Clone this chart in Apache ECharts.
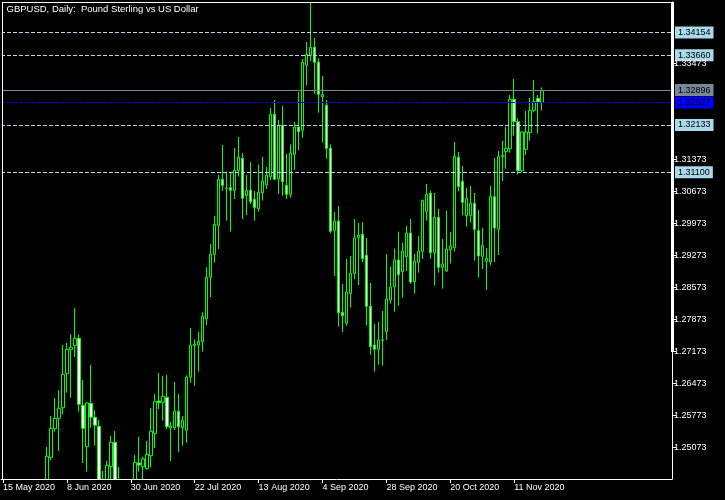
<!DOCTYPE html>
<html>
<head>
<meta charset="utf-8">
<style>
html,body{margin:0;padding:0;background:#000;}
#chart{width:725px;height:500px;}
</style>
<script src="https://cdn.jsdelivr.net/npm/echarts/dist/echarts.min.js"></script>
</head>
<body>
<div id="chart"></div>
<script>
// ---- data (daily bars from 15 May 2020; first 11 bars lie below the visible range) ----
const titleText = 'GBPUSD, Daily:  Pound Sterling vs US Dollar';
const firstDate = [2020, 4, 15];
const barCount = 136;
const totalSlots = 168;
const tickLabels = ['15 May 2020','8 Jun 2020','30 Jun 2020','22 Jul 2020','13 Aug 2020','4 Sep 2020','28 Sep 2020','20 Oct 2020','11 Nov 2020'];
const tickEvery = 16;

const openPrices = [null,null,null,null,null,null,null,null,null,null,null,
 1.2350,1.24855,1.25489,1.25715,1.25948,1.26692,1.27217,1.27305,1.27465,1.25999,
 1.25095,1.26043,1.25737,1.25540,1.2410,1.2350,1.24658,1.25190,1.2415,1.2420,
 1.2335,1.2310,1.2400,1.24738,1.24658,1.24614,1.24898,1.25387,1.26094,1.26065,
 1.26174,1.25503,1.25510,1.25869,1.25510,1.25453,1.26613,1.27305,1.27319,1.27392,
 1.27896,1.28800,1.29303,1.29930,1.30944,1.30750,1.30761,1.30703,1.31133,1.31403,
 1.30586,1.30703,1.30506,1.30302,1.30652,1.30820,1.31002,1.32366,1.30951,1.32125,
 1.30812,1.30615,1.31491,1.32088,1.32016,1.33438,1.33656,1.33831,1.33503,1.32752,
 1.32563,1.31622,1.29828,1.30032,1.28034,1.27801,1.28443,1.28880,1.29668,1.29741,
 1.29281,1.28165,1.27320,1.27225,1.27430,1.27611,1.28304,1.28596,1.29179,1.28924,
 1.29252,1.29770,1.28705,1.29128,1.29369,1.30244,1.30637,1.29339,1.30112,1.29019,
 1.28938,1.29405,1.29449,1.31425,1.30900,1.30149,1.30149,1.30419,1.29821,1.29259,
 1.29150,1.29135,1.30564,1.29850,1.31440,1.31549,1.31614,1.32694,1.32205,1.31133,
 1.31600,1.31965,1.32453,1.32716,1.32628];
const highPrices = [null,null,null,null,null,null,null,null,null,null,null,
 1.25088,1.25766,1.26160,1.26335,1.27319,1.27363,1.27553,1.28129,1.27553,1.26554,
 1.26072,1.26882,1.25897,1.25679,1.24563,1.24782,1.25329,1.25438,1.24651,1.2430,
 1.2400,1.2420,1.24913,1.25307,1.24876,1.25219,1.25941,1.26247,1.26707,1.26641,
 1.26663,1.25635,1.26510,1.26247,1.25766,1.26657,1.27691,1.27444,1.27604,1.28034,
 1.29019,1.29529,1.30141,1.31038,1.31695,1.31111,1.31089,1.31629,1.31870,1.31520,
 1.31038,1.31323,1.30688,1.31264,1.31432,1.31213,1.32504,1.32679,1.32242,1.32548,
 1.31498,1.31709,1.32198,1.32854,1.33576,1.33948,1.34820,1.34035,1.33591,1.33204,
 1.32679,1.31709,1.30229,1.30360,1.28654,1.29201,1.29267,1.30076,1.29989,1.30010,
 1.29660,1.28676,1.27779,1.27823,1.28063,1.29310,1.29033,1.29427,1.29799,1.29558,
 1.29923,1.30076,1.29310,1.29704,1.30499,1.30842,1.30696,1.30645,1.30295,1.29638,
 1.30258,1.29792,1.31760,1.31542,1.31235,1.30754,1.30798,1.30645,1.30273,1.29879,
 1.29442,1.30798,1.31410,1.31563,1.31782,1.32088,1.32789,1.33139,1.32278,1.31994,
 1.32438,1.32723,1.33117,1.32789,1.32956];
const lowPrices = [null,null,null,null,null,null,null,null,null,null,null,
 1.2340,1.24796,1.25423,1.25000,1.25803,1.26277,1.26167,1.27057,1.25861,1.24738,
 1.24548,1.25511,1.25117,1.2390,1.2335,1.2340,1.2435,1.2405,1.2355,1.2330,
 1.2250,1.2255,1.2390,1.24548,1.2430,1.24592,1.24643,1.25066,1.25919,1.25664,
 1.25482,1.24782,1.25460,1.24976,1.25116,1.25182,1.26494,1.26429,1.26735,1.27174,
 1.27757,1.28369,1.29121,1.29420,1.30688,1.30039,1.29799,1.30513,1.31002,1.30076,
 1.30163,1.30404,1.30039,1.30236,1.30477,1.30732,1.30929,1.30929,1.30623,1.30586,
 1.30513,1.30543,1.31148,1.31585,1.31855,1.32997,1.33532,1.32810,1.32402,1.31746,
 1.31396,1.29762,1.28829,1.27721,1.27604,1.27743,1.28136,1.28756,1.28632,1.29135,
 1.27743,1.27108,1.26736,1.26889,1.26867,1.27429,1.28224,1.28049,1.28180,1.28355,
 1.28938,1.28654,1.28443,1.28902,1.29201,1.30040,1.29208,1.28618,1.28902,1.28552,
 1.28917,1.29099,1.29361,1.30681,1.30156,1.29908,1.29996,1.29164,1.28793,1.28982,
 1.28523,1.29070,1.29135,1.29288,1.30907,1.31177,1.31527,1.31899,1.31046,1.31097,
 1.31476,1.31790,1.32409,1.31943,1.32446];
const closePrices = [null,null,null,null,null,null,null,null,null,null,null,
 1.24884,1.25496,1.25715,1.25934,1.26678,1.27224,1.27268,1.27465,1.26021,1.25496,
 1.26050,1.25737,1.25562,1.2410,1.2350,1.24687,1.25190,1.2415,1.2420,1.2335,
 1.2310,1.2400,1.24753,1.24694,1.24825,1.24928,1.25431,1.26087,1.26058,1.26196,
 1.25533,1.25547,1.25869,1.25532,1.25672,1.26613,1.27313,1.27340,1.27400,1.27946,
 1.28800,1.29303,1.29959,1.30944,1.30812,1.30745,1.30703,1.31141,1.31425,1.30528,
 1.30703,1.30455,1.30324,1.30659,1.30907,1.31031,1.32366,1.30944,1.32125,1.30893,
 1.30615,1.31520,1.32088,1.31986,1.33503,1.33678,1.33831,1.33503,1.32803,1.32803,
 1.31622,1.29806,1.30032,1.28027,1.27961,1.28479,1.28887,1.29660,1.29719,1.29208,
 1.28165,1.27283,1.27225,1.27429,1.27425,1.28326,1.28588,1.29179,1.28858,1.29376,
 1.29770,1.28698,1.29157,1.29376,1.30484,1.30615,1.29339,1.30112,1.29019,1.29091,
 1.29420,1.29485,1.31447,1.30783,1.30441,1.30528,1.30419,1.29850,1.29266,1.29493,
 1.29215,1.30572,1.29879,1.31440,1.31469,1.31622,1.32694,1.32205,1.31133,1.31979,
 1.31979,1.32453,1.32643,1.32635,1.32883];

const priceAxisTicks = [1.25073,1.25773,1.26473,1.27173,1.27873,1.28573,1.29273,1.29973,1.30673,1.31373,1.33473];
const priceAxisMin = 1.24388;
const priceAxisMax = 1.34823;

const levelValues = [1.34154, 1.33660, 1.32896, 1.32627, 1.32133, 1.31100];
const levelKinds  = ['level','level','bid','ask','level','level'];

// ---- build ----
const months = ['Jan','Feb','Mar','Apr','May','Jun','Jul','Aug','Sep','Oct','Nov','Dec'];
const categories = [];
{
  const d = new Date(Date.UTC(firstDate[0], firstDate[1], firstDate[2]));
  while (categories.length < totalSlots) {
    const wd = d.getUTCDay();
    if (wd !== 0 && wd !== 6) {
      categories.push(d.getUTCDate() + ' ' + months[d.getUTCMonth()] + ' ' + d.getUTCFullYear());
    }
    d.setUTCDate(d.getUTCDate() + 1);
  }
}
const candleData = [];
for (let i = 0; i < barCount; i++) {
  if (openPrices[i] == null) { candleData.push('-'); continue; }
  candleData.push([openPrices[i], closePrices[i], lowPrices[i], highPrices[i]]);
}

const kindStyle = {
  level: { color: '#a9d9ea', type: [4, 2], text: '#000' },
  bid:   { color: '#778899', type: 'solid', text: '#000' },
  ask:   { color: '#0000ff', type: [4, 2], text: '#000' }
};
const markData = levelValues.map((v, k) => {
  const s = kindStyle[levelKinds[k]];
  return {
    yAxis: v,
    lineStyle: { color: s.color, type: s.type, width: 1 },
    label: {
      show: true, position: 'end', distance: 3,
      formatter: () => v.toFixed(5),
      color: s.text, backgroundColor: s.color,
      padding: [2, 3, 1, 3], fontSize: 9, fontFamily: 'Liberation Sans', lineHeight: 9
    }
  };
});

const showTick = (idx) => idx % tickEvery === 0 && idx < barCount;

const chart = echarts.init(document.getElementById('chart'), null, { renderer: 'canvas' });
chart.setOption({
  backgroundColor: '#000',
  animation: false,
  grid: { left: 0.3, top: 2, width: 671.7, bottom: 21, containLabel: false },
  xAxis: {
    type: 'category',
    z: 20,
    data: categories,
    boundaryGap: true,
    axisLine: { show: true, lineStyle: { color: '#fff', width: 1 } },
    axisTick: { show: true, interval: showTick, alignWithLabel: true, length: 4, lineStyle: { color: '#fff' } },
    axisLabel: {
      show: true, interval: showTick, align: 'left', margin: 4,
      color: '#fff', fontSize: 9, fontFamily: 'Liberation Sans',
      formatter: (val, idx) => tickLabels[Math.round(idx / tickEvery)] || ''
    },
    splitLine: { show: false }
  },
  yAxis: {
    type: 'value',
    z: 20,
    position: 'right',
    min: priceAxisMin,
    max: priceAxisMax,
    axisLine: { show: true, lineStyle: { color: '#fff', width: 1 } },
    axisTick: { show: true, customValues: priceAxisTicks, length: 4, lineStyle: { color: '#fff' } },
    axisLabel: {
      show: true, customValues: priceAxisTicks, margin: 2,
      color: '#fff', fontSize: 9, fontFamily: 'Liberation Sans',
      formatter: (v) => Number(v).toFixed(5)
    },
    splitLine: { show: false }
  },
  series: [{
    type: 'candlestick',
    data: candleData,
    barWidth: 3,
    clip: true,
    z: 2,
    itemStyle: {
      color: '#000000', color0: '#ffffff',
      borderColor: '#00ff00', borderColor0: '#00ff00', borderWidth: 1
    },
    emphasis: { disabled: true },
    markLine: {
      silent: true, symbol: ['none', 'none'], animation: false,
      precision: 5,
      data: markData
    }
  }],
  graphic: [
    { type: 'rect', shape: { x: 0, y: 479.5, width: 725, height: 21 }, style: { fill: '#000' }, z: 10 },
    { type: 'rect', shape: { x: 0, y: 0, width: 2, height: 500 }, style: { fill: '#000' }, z: 10 },
    { type: 'line', shape: { x1: 2.5, y1: 2, x2: 2.5, y2: 480 }, style: { stroke: '#fff', lineWidth: 1 }, z: 30 },
    { type: 'line', shape: { x1: 2, y1: 2.5, x2: 674, y2: 2.5 }, style: { stroke: '#fff', lineWidth: 1 }, z: 30 },
    { type: 'rect', shape: { x: 671, y: 2, width: 3, height: 350 }, style: { fill: '#fff' }, z: 30 },
    { type: 'text', x: 6.5, y: 4, style: { text: titleText, fill: '#fff', fontSize: 9.5, fontFamily: 'Liberation Sans', verticalAlign: 'top' }, z: 30 }
  ]
});
</script>
</body>
</html>
